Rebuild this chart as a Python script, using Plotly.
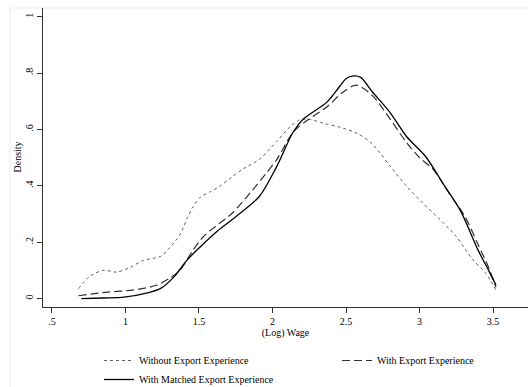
import plotly.graph_objects as go

# Data
without_x = [0.68, 0.76, 0.85, 0.94, 1.03, 1.12, 1.24, 1.30, 1.37, 1.42, 1.46, 1.51, 1.58, 1.64, 1.72,
             1.80, 1.91, 2.03, 2.12, 2.19, 2.26, 2.36, 2.46, 2.58, 2.68, 2.80, 2.91, 3.02, 3.14, 3.25,
             3.36, 3.45, 3.52]
without_y = [0.035, 0.08, 0.10, 0.094, 0.11, 0.135, 0.15, 0.18, 0.226, 0.286, 0.326, 0.36, 0.38, 0.398,
             0.43, 0.46, 0.494, 0.558, 0.61, 0.635, 0.635, 0.62, 0.608, 0.585, 0.548, 0.47, 0.40, 0.34,
             0.28, 0.22, 0.14, 0.09, 0.03]

with_x = [0.68, 0.88, 1.05, 1.21, 1.30, 1.37, 1.46, 1.53, 1.61, 1.72, 1.85, 1.95, 2.03, 2.14, 2.23,
          2.37, 2.48, 2.57, 2.68, 2.80, 2.91, 3.00, 3.09, 3.20, 3.31, 3.40, 3.47, 3.52]
with_y = [0.01, 0.023, 0.03, 0.047, 0.072, 0.10, 0.172, 0.22, 0.255, 0.30, 0.376, 0.44, 0.494, 0.59,
          0.63, 0.68, 0.733, 0.757, 0.72, 0.637, 0.555, 0.50, 0.46, 0.375, 0.29, 0.19, 0.11, 0.04]

matched_x = [0.70, 0.85, 0.99, 1.15, 1.24, 1.33, 1.42, 1.51, 1.62, 1.75, 1.91, 2.03, 2.14, 2.21, 2.37,
             2.46, 2.50, 2.55, 2.60, 2.68, 2.80, 2.91, 3.04, 3.17, 3.28, 3.40, 3.47, 3.52]
matched_y = [0.0, 0.002, 0.005, 0.02, 0.036, 0.077, 0.137, 0.184, 0.237, 0.29, 0.362, 0.47, 0.59, 0.637,
             0.697, 0.755, 0.78, 0.79, 0.785, 0.733, 0.66, 0.576, 0.505, 0.40, 0.31, 0.17, 0.10, 0.048]

x_tickvals = [0.5, 1, 1.5, 2, 2.5, 3, 3.5]
x_ticktext = [".5", "1", "1.5", "2", "2.5", "3", "3.5"]
y_tickvals = [0, 0.2, 0.4, 0.6, 0.8, 1.0]
y_ticktext = ["0", ".2", ".4", ".6", ".8", "1"]

FONT = "Liberation Serif"

fig = go.Figure()
fig.add_trace(go.Scatter(x=without_x, y=without_y, mode="lines", name="Without Export Experience",
                         legend="legend", legendrank=1,
                         line=dict(color="#606060", width=1, dash="3px,3px", shape="spline", smoothing=0.8)))
fig.add_trace(go.Scatter(x=with_x, y=with_y, mode="lines", name="With Export Experience",
                         legend="legend2",
                         line=dict(color="#303030", width=1.2, dash="8px,4px", shape="spline", smoothing=0.8)))
fig.add_trace(go.Scatter(x=matched_x, y=matched_y, mode="lines", name="With Matched Export Experience",
                         legend="legend", legendrank=2,
                         line=dict(color="#000000", width=1.3, shape="spline", smoothing=0.8)))

legend_common = dict(orientation="v", yanchor="top", xanchor="left", tracegroupgap=0,
                     font=dict(family=FONT, size=10), bgcolor="rgba(0,0,0,0)",
                     xref="container", yref="container")

fig.update_layout(
    width=528, height=387,
    margin=dict(l=43, r=0, t=8, b=80, autoexpand=False),
    paper_bgcolor="white", plot_bgcolor="white",
    font=dict(family=FONT, size=10, color="black"),
    showlegend=True,
    legend=dict(x=99 / 528, y=1 - 346 / 387, **legend_common),
    legend2=dict(x=337 / 528, y=1 - 346 / 387, **legend_common),
    xaxis=dict(range=[0.439, 3.738], tickvals=x_tickvals, ticktext=x_ticktext,
               showgrid=False, zeroline=False, showline=True, linecolor="#333", linewidth=1,
               ticks="outside", ticklen=5, tickcolor="#333", tickwidth=1,
               title=dict(text="(Log) Wage", standoff=2, font=dict(size=10))),
    yaxis=dict(range=[-0.03, 1.031], tickvals=y_tickvals, ticktext=y_ticktext,
               showgrid=False, zeroline=False, showline=True, linecolor="#333", linewidth=1,
               ticks="outside", ticklen=5, tickcolor="#333", tickwidth=1, tickangle=-90),
    annotations=[
        dict(text="Density", xref="paper", yref="paper", x=(17 - 43) / 485, y=0.5,
             xanchor="center", yanchor="middle", textangle=-90, showarrow=False,
             font=dict(family=FONT, size=10)),
    ],
    shapes=[
        dict(type="line", xref="paper", yref="paper", x0=-0.068, x1=-0.068, y0=-0.27, y1=1.0,
             line=dict(color="#e6eef2", width=1), layer="below"),
        dict(type="line", xref="paper", yref="paper", x0=-0.068, x1=1.0, y0=1.0, y1=1.0,
             line=dict(color="#e6eef2", width=1), layer="below"),
    ],
)

fig.write_html("out.html")
